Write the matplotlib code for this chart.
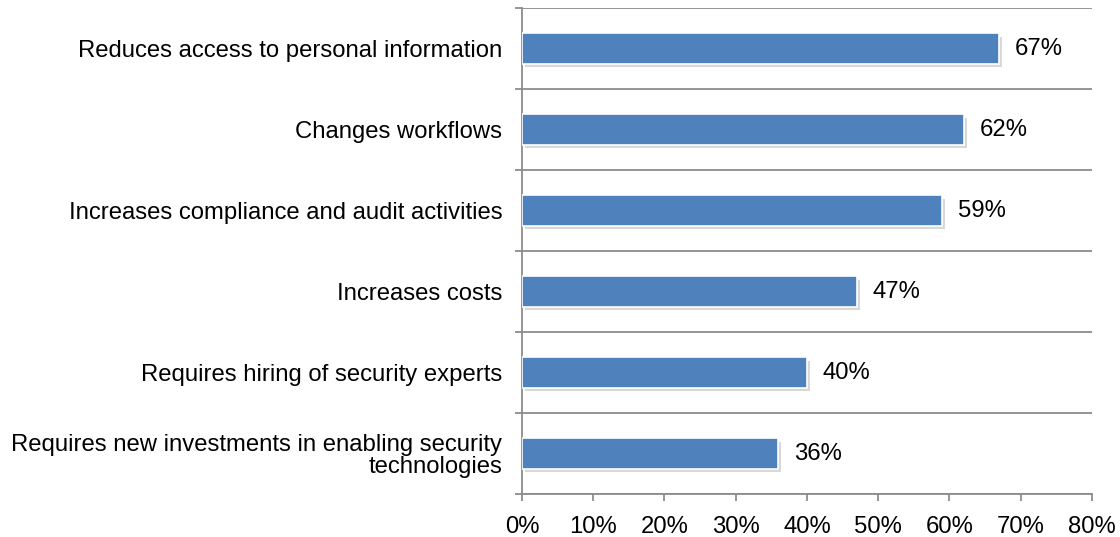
import numpy as np
import matplotlib.pyplot as plt
import matplotlib.patheffects as pe

plt.rcParams['font.family'] = ['Liberation Sans', 'DejaVu Sans']

categories = [
    "Reduces access to personal information",
    "Changes workflows",
    "Increases compliance and audit activities",
    "Increases costs",
    "Requires hiring of security experts",
    "Requires new investments in enabling security\ntechnologies",
]
values = [67, 62, 59, 47, 40, 36]
xticks = [0, 10, 20, 30, 40, 50, 60, 70, 80]

bar_color = "#4F81BD"
axis_gray = "#8C8C8C"
fs = 17.2

fig = plt.figure(figsize=(11.2, 5.37), dpi=100)
ax = fig.add_axes([0.466, 0.080, 0.509, 0.905])

y = np.arange(len(categories))[::-1]
bars = ax.barh(y, values, height=0.38, color=bar_color, edgecolor="white",
               linewidth=1.2, zorder=3)
for b in bars:
    b.set_path_effects([pe.SimplePatchShadow(offset=(2, -2.5), alpha=0.3,
                                             shadow_rgbFace="#7f7f7f"),
                        pe.Normal()])

for yi, v in zip(y, values):
    ax.text(v + 2.2, yi, f"{v}%", va="center", ha="left", fontsize=fs,
            color="black")

ax.set_xlim(0, 80)
ax.set_ylim(-0.5, len(categories) - 0.5)
ax.set_xticks(xticks)
ax.set_xticklabels([f"{t}%" for t in xticks], fontsize=fs)

ax.set_yticks(y)
ax.set_yticklabels(categories, fontsize=fs, linespacing=1.02,
                   multialignment="right")
ax.set_yticks(np.arange(-0.5, len(categories)), minor=True)
ax.tick_params(axis="y", which="major", length=0, pad=14)
ax.tick_params(axis="y", which="minor", length=5, color=axis_gray, width=1.3)
ax.tick_params(axis="x", length=5, color=axis_gray, width=1.3, pad=11)
ax.grid(axis="y", which="minor", color=axis_gray, linewidth=1.3, zorder=0)
ax.set_axisbelow(True)

for side in ["top", "right"]:
    ax.spines[side].set_visible(False)
for side in ["left", "bottom"]:
    ax.spines[side].set_color(axis_gray)
    ax.spines[side].set_linewidth(1.3)

fig.savefig("out.png", dpi=100)
